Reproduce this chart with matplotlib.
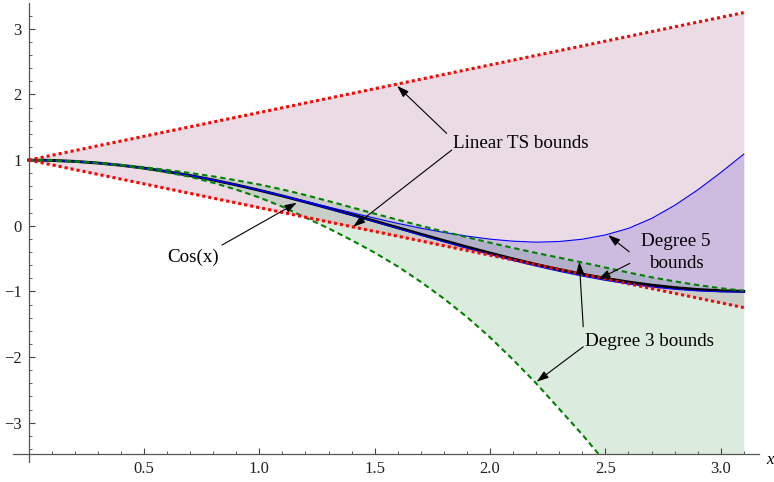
import numpy as np
import matplotlib
matplotlib.use("Agg")
import matplotlib.pyplot as plt
from matplotlib.ticker import MultipleLocator, FixedLocator

plt.rcParams['font.family'] = ['Liberation Serif', 'DejaVu Serif']

# sample points along x
x = [0.0, 0.1, 0.2, 0.3, 0.4, 0.5, 0.6, 0.7, 0.8, 0.9, 1.0, 1.1, 1.2, 1.3, 1.4, 1.5,
     1.6, 1.7, 1.8, 1.9, 2.0, 2.1, 2.2, 2.3, 2.4, 2.5, 2.6, 2.7, 2.8, 2.9, 3.0, 3.1]

cos_x = [1.000, 0.995, 0.980, 0.955, 0.921, 0.878, 0.825, 0.765, 0.697, 0.622, 0.540,
         0.454, 0.362, 0.267, 0.170, 0.071, -0.029, -0.129, -0.227, -0.323, -0.416,
         -0.505, -0.589, -0.666, -0.737, -0.801, -0.857, -0.904, -0.942, -0.971,
         -0.990, -0.999]

# linear Taylor bounds (straight lines)
lin_x = [0.0, 3.1]
lin_upper = [1.0, 3.246]
lin_lower = [1.0, -1.246]

# degree 3 bounds
deg3_upper = [1.000, 0.995, 0.981, 0.957, 0.927, 0.891, 0.849, 0.803, 0.752, 0.692,
              0.628, 0.552, 0.467, 0.375, 0.280, 0.184, 0.091, -0.001, -0.089, -0.175,
              -0.258, -0.338, -0.414, -0.486, -0.559, -0.636, -0.712, -0.784, -0.847,
              -0.903, -0.952, -0.989]
deg3_lower = [1.000, 0.995, 0.980, 0.955, 0.919, 0.872, 0.812, 0.745, 0.655, 0.550,
              0.430, 0.290, 0.125, -0.040, -0.220, -0.410, -0.620, -0.855, -1.110,
              -1.390, -1.700, -2.040, -2.400, -2.790, -3.180, -3.600,
              np.nan, np.nan, np.nan, np.nan, np.nan, np.nan]

# degree 5 bounds
deg5_upper = [1.000, 0.995, 0.980, 0.955, 0.921, 0.878, 0.825, 0.765, 0.698, 0.623,
              0.543, 0.460, 0.373, 0.285, 0.200, 0.116, 0.036, -0.037, -0.102, -0.158,
              -0.204, -0.235, -0.250, -0.240, -0.205, -0.140, -0.040, 0.110, 0.310,
              0.545, 0.810, 1.090]
deg5_lower = [1.000, 0.995, 0.980, 0.955, 0.921, 0.877, 0.825, 0.764, 0.696, 0.621,
              0.539, 0.452, 0.357, 0.260, 0.161, 0.059, -0.043, -0.145, -0.245, -0.343,
              -0.438, -0.529, -0.615, -0.694, -0.766, -0.831, -0.886, -0.932, -0.967,
              -0.992, -1.006, -1.009]

y_min, y_max = -3.48, 3.39

fig = plt.figure(figsize=(7.74, 4.82), dpi=100)
ax = fig.add_axes([13 / 774, 0.0575, 746 / 774, 0.936])
ax.set_xlim(-0.068, 3.166)
ax.set_ylim(y_min, y_max)

xs = np.array(x)
d3_lo = np.array(deg3_lower, dtype=float)
d3_lo_fill = np.where(np.isnan(d3_lo), y_min, d3_lo)

# shaded regions between each pair of bounds
ax.fill_between(lin_x, lin_lower, lin_upper, color='#8b3a6b', alpha=0.18, lw=0)
ax.fill_between(xs, d3_lo_fill, deg3_upper, color='#2a8c3c', alpha=0.17, lw=0)
ax.fill_between(xs, deg5_lower, deg5_upper, color='#5a3cd2', alpha=0.20, lw=0)

ax.plot(xs, cos_x, color='black', lw=2.1)
ax.plot(xs, deg5_upper, color='blue', lw=0.8)
ax.plot(xs, deg5_lower, color='blue', lw=0.8)
ax.plot(xs, deg3_upper, color='#008000', lw=1.5, ls=(0, (2.6, 1.8)))
ax.plot(xs, d3_lo, color='#008000', lw=1.5, ls=(0, (2.6, 1.8)))
ax.plot(lin_x, lin_upper, color='red', lw=2.2, ls=(0, (1, 1)))
ax.plot(lin_x, lin_lower, color='red', lw=2.2, ls=(0, (1, 1)))

# labels with arrows
arrow = dict(arrowstyle='-|>,head_length=0.6,head_width=0.2', color='black',
             lw=0.8, shrinkA=0, shrinkB=0, mutation_scale=12)
fs = 13.7
ax.text(2.135, 1.26, 'Linear TS bounds', fontsize=fs, ha='center', va='center')
ax.annotate('', xy=(1.597, 2.13), xytext=(1.812, 1.407), arrowprops=arrow)
ax.annotate('', xy=(1.407, -0.015), xytext=(1.834, 1.153), arrowprops=arrow)

ax.text(0.712, -0.477, 'Cos(x)', fontsize=fs, ha='center', va='center')
ax.annotate('', xy=(1.162, 0.35), xytext=(0.838, -0.294), arrowprops=arrow)

ax.text(2.806, -0.41, 'Degree 5\nbounds', fontsize=fs, ha='center', va='center',
        linespacing=1.35)
ax.annotate('', xy=(2.512, -0.142), xytext=(2.603, -0.396), arrowprops=arrow)
ax.annotate('', xy=(2.469, -0.816), xytext=(2.606, -0.573), arrowprops=arrow)

ax.text(2.692, -1.756, 'Degree 3 bounds', fontsize=fs, ha='center', va='center')
ax.annotate('', xy=(2.387, -0.548), xytext=(2.404, -1.538), arrowprops=arrow)
ax.annotate('', xy=(2.202, -2.376), xytext=(2.404, -1.843), arrowprops=arrow)

# axes through the origin, Mathematica style
for side in ['top', 'right']:
    ax.spines[side].set_visible(False)
ax.spines['left'].set_position(('data', 0))
for side in ['left', 'bottom']:
    ax.spines[side].set_color('#555555')
    ax.spines[side].set_linewidth(0.9)

ax.xaxis.set_major_locator(FixedLocator([0.5, 1.0, 1.5, 2.0, 2.5, 3.0]))
ax.xaxis.set_minor_locator(MultipleLocator(0.1))
ax.yaxis.set_major_locator(FixedLocator([-3, -2, -1, 0, 1, 2, 3]))
ax.yaxis.set_minor_locator(MultipleLocator(0.2))
ax.set_xticklabels(['0.5', '1.0', '1.5', '2.0', '2.5', '3.0'])
ax.set_yticklabels(['\u22123', '\u22122', '\u22121', '0', '1', '2', '3'])
ax.tick_params(which='major', direction='in', length=4.5, width=0.8,
               color='#444444', labelsize=12, labelcolor='#222222', pad=5)
ax.tick_params(which='minor', direction='in', length=2.5, width=0.6, color='#444444')

# short stub of the y axis below the x axis
ax.plot([0, 0], [y_min, y_min - 0.12], color='#555555', lw=0.9, clip_on=False)

ax.text(3.196, -3.57, 'x', fontsize=12, style='italic', ha='left', va='center',
        clip_on=False)

fig.savefig('out.png', dpi=100)
